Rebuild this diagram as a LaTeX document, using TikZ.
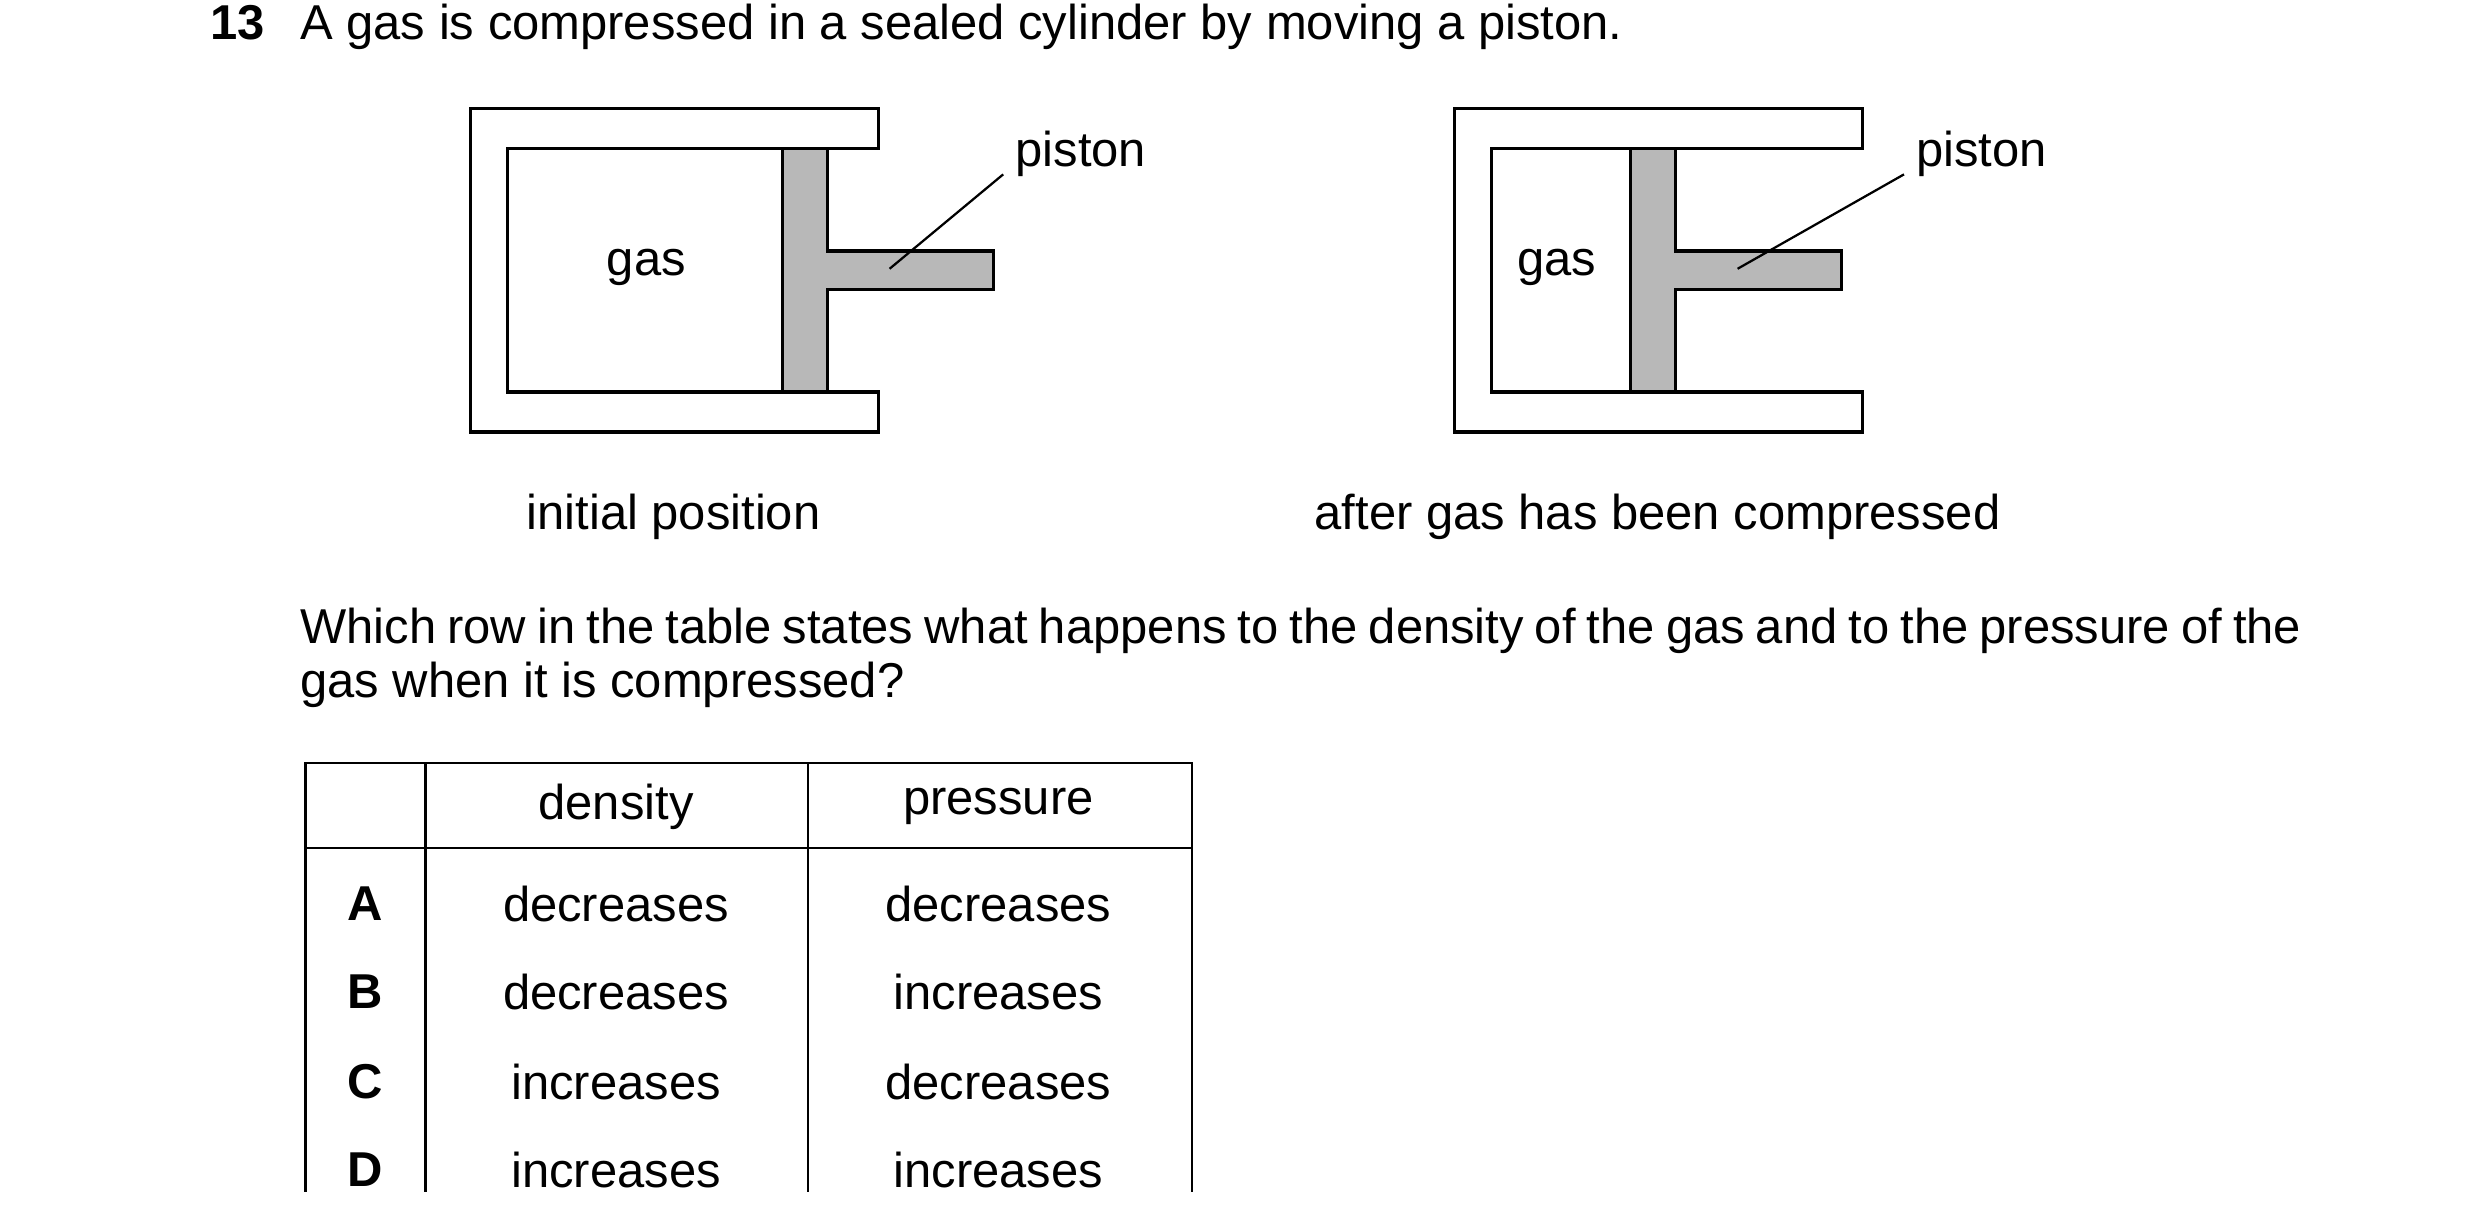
\documentclass[tikz,border=0pt]{standalone}
\usepackage{fontspec}
\setmainfont{Liberation Sans}
\begin{document}
\begin{tikzpicture}[x=0.01cm,y=-0.01cm,
  txt/.style={inner sep=0pt,font=\fontsize{8.7}{10.5}\selectfont},
  wall/.style={draw,line width=0.6pt,fill=white},
  pist/.style={draw,line width=0.6pt,fill=black!28},
  lead/.style={line width=0.4pt},
  tline/.style={line width=0.4pt}]
\useasboundingbox (0,0) rectangle (1550,762);
\node[txt,font=\fontsize{8.7}{10.5}\selectfont\bfseries,anchor=base west] (num) at (131,25) {13};
\node[txt,anchor=base west] (q) at (187,25) {A gas is compressed in a sealed cylinder by moving a piston.};
% cylinders
\foreach \dx/\px/\rx/\lx/\tag in {0/489/621/317/a,615/1019/1151/932/b}{
  \draw[wall] (549+\dx,68) -- (294+\dx,68) -- (294+\dx,270) -- (549+\dx,270) -- (549+\dx,245) -- (\lx,245) -- (\lx,93) -- (549+\dx,93) -- cycle;
  \draw[pist] (\px,93) -- (\px+28,93) -- (\px+28,157) -- (\rx,157) -- (\rx,181) -- (\px+28,181) -- (\px+28,245) -- (\px,245) -- cycle;
}
\coordinate (la1) at (556,168);
\node[txt,anchor=west] (p1) at (634,96) {piston};
\draw[lead] (la1) -- (627,109);
\node[txt] (g1) at (404,167) {gas};
\node[txt] (c1) at (421,323) {initial position};
\coordinate (la2) at (1086,168);
\node[txt,anchor=west] (p2) at (1197,96) {piston};
\draw[lead] (la2) -- (1190,109);
\node[txt] (g2) at (973,167) {gas};
\node[txt] (c2) at (1036,323) {after gas has been compressed};
% question
\node[txt,anchor=base west] (w1) at (187,402) {\makebox[12.5cm][s]{Which row in the table states what happens to the density of the gas and to the pressure of the}};
\node[txt,anchor=base west] (w2) at (187,436) {gas when it is compressed?};
% table
\draw[tline] (191,745) -- (191,477) -- (745,477) -- (745,745);
\draw[tline] (266,477) -- (266,745);
\draw[tline] (505,477) -- (505,745);
\draw[tline] (191,530) -- (745,530);
\node[txt] (hd) at (385,504) {density};
\node[txt] (hp) at (624,504) {pressure};
\foreach \y/\l/\d/\p in {565/A/decreases/decreases,620/B/decreases/increases,676/C/increases/decreases,731/D/increases/increases}{
  \node[txt,font=\fontsize{8.7}{10.5}\selectfont\bfseries] at (228,\y) {\l};
  \node[txt] at (385,\y) {\d};
  \node[txt] at (624,\y) {\p};
}
\end{tikzpicture}
\end{document}
